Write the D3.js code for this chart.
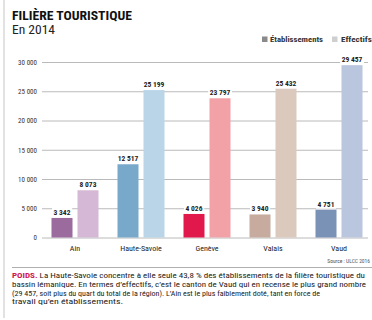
<!DOCTYPE html>
<html>
<head>
<meta charset="utf-8">
<script src="https://cdn.jsdelivr.net/npm/d3@7"></script>
<style>
  html, body { margin: 0; padding: 0; background: #fff; }
  svg { display: block; }
  text { font-family: "Liberation Sans Narrow", "Roboto Condensed", "Arial Narrow", "Liberation Sans", Arial, sans-serif; }
</style>
</head>
<body>
<svg id="chart" width="372" height="320"></svg>
<script>
// Tourism sector in the Lake Geneva basin, 2014
const categories = ["Ain", "Haute-Savoie", "Genève", "Valais", "Vaud"];
const etablissements = [3342, 12517, 4026, 3940, 4751];
const effectifs = [8073, 25199, 23797, 25432, 29457];
const yTicks = [0, 5000, 10000, 15000, 20000, 25000, 30000];
const seriesNames = ["Établissements", "Effectifs"];

// Per-area colours: [dark = establishments, light = workforce]
const colors = {
  "Ain": ["#9b6b9e", "#d5b8d6"],
  "Haute-Savoie": ["#78a9ca", "#bad5e8"],
  "Genève": ["#e0184c", "#f2a2a7"],
  "Valais": ["#c6ab9e", "#dcc9bd"],
  "Vaud": ["#7a92b6", "#b9c6de"]
};
const legendColors = ["#8a8a8a", "#cfcfcf"];

const fr = d3.formatLocale({ decimal: ",", thousands: "\u202F", grouping: [3], currency: ["", " €"] });
const fmt = v => fr.format(",")(v).replace(/\u202F/g, " ");

const rows = categories.map((c, i) => ({ cat: c, values: [etablissements[i], effectifs[i]] }));

const svg = d3.select("#chart");

// left rule
svg.append("rect").attr("x", 3).attr("y", 0).attr("width", 2).attr("height", 318).attr("fill", "#e2e2e2");

// Title block
svg.append("text").attr("x", 12).attr("y", 19.5)
  .attr("font-size", 12).attr("font-weight", "bold").attr("fill", "#111")
  .attr("textLength", 120).attr("lengthAdjust", "spacingAndGlyphs")
  .text("FILIÈRE TOURISTIQUE");
svg.append("text").attr("x", 12).attr("y", 33.5)
  .attr("font-size", 12).attr("fill", "#222")
  .attr("textLength", 43).attr("lengthAdjust", "spacingAndGlyphs")
  .text("En 2014");

// Legend
const legend = svg.append("g");
const legendPos = [{ sx: 262, tx: 270, w: 53 }, { sx: 332, tx: 341, w: 31 }];
seriesNames.forEach((name, i) => {
  legend.append("rect").attr("x", legendPos[i].sx).attr("y", 36.5).attr("width", 5.5).attr("height", 5.5).attr("fill", legendColors[i]);
  legend.append("text").attr("x", legendPos[i].tx).attr("y", 41.7)
    .attr("font-size", 7).attr("font-weight", "bold").attr("fill", "#333")
    .attr("textLength", legendPos[i].w).attr("lengthAdjust", "spacingAndGlyphs")
    .text(name);
});

// Scales
const y = d3.scaleLinear().domain([0, 30000]).range([237.5, 62]);
const x0 = d3.scaleBand().domain(categories).range([42, 372]).padding(0);
const x1 = d3.scaleBand().domain([0, 1]).range([9.5, 56.5]).paddingInner(5 / 26);

// Y axis with gridlines
const yAxis = d3.axisLeft(y).tickValues(yTicks).tickSize(-326).tickFormat(fmt).tickPadding(5);
const gy = svg.append("g").attr("transform", "translate(42,0)").call(yAxis);
gy.select(".domain").remove();
gy.selectAll(".tick line").attr("stroke", "#a8a8a8").attr("stroke-width", 0.8);
gy.selectAll(".tick text").attr("font-size", 7).attr("fill", "#333").attr("font-family", null);

// Bars
const groups = svg.append("g").selectAll("g").data(rows).join("g")
  .attr("transform", d => `translate(${x0(d.cat)},0)`);

groups.selectAll("rect").data(d => d.values.map((v, i) => ({ cat: d.cat, i, v }))).join("rect")
  .attr("x", d => x1(d.i))
  .attr("width", x1.bandwidth())
  .attr("y", d => y(d.v))
  .attr("height", d => y(0) - y(d.v))
  .attr("fill", d => colors[d.cat][d.i]);

// Value labels with white backing
const labels = groups.selectAll("g.lab").data(d => d.values.map((v, i) => ({ cat: d.cat, i, v }))).join("g")
  .attr("class", "lab")
  .attr("transform", d => `translate(${x1(d.i) + x1.bandwidth() / 2},${y(d.v) - 3})`);
labels.each(function(d) {
  const g = d3.select(this);
  const t = g.append("text").attr("text-anchor", "middle")
    .attr("font-size", 7.5).attr("font-weight", "bold").attr("fill", "#222")
    .text(fmt(d.v));
  const bb = t.node().getBBox();
  g.insert("rect", "text").attr("x", bb.x - 1.5).attr("y", bb.y).attr("width", bb.width + 3).attr("height", bb.height).attr("fill", "#fff");
});

// Category labels
svg.append("g").selectAll("text").data(categories).join("text")
  .attr("x", d => x0(d) + x0.bandwidth() / 2)
  .attr("y", 251)
  .attr("text-anchor", "middle")
  .attr("font-size", 8).attr("fill", "#222")
  .text(d => d);

// Source
svg.append("text").attr("x", 370).attr("y", 263).attr("text-anchor", "end")
  .attr("font-size", 5.5).attr("fill", "#555").text("Source : ULCC 2016");

// Separator
svg.append("line").attr("x1", 12).attr("x2", 372).attr("y1", 267.5).attr("y2", 267.5)
  .attr("stroke", "#9a9a9a").attr("stroke-width", 0.8);

// Caption
const captionLines = [
  { parts: [["POIDS. ", true], ["La Haute-Savoie concentre à elle seule 43,8 % des établissements de la filière touristique du", false]], w: 353 },
  { parts: [["bassin lémanique. En termes d’effectifs, c’est le canton de Vaud qui en recense le plus grand nombre", false]], w: 354 },
  { parts: [["(29 457, soit plus du quart du total de la région). L’Ain est le plus faiblement doté, tant en force de", false]], w: 308 },
  { parts: [["travail qu’en établissements.", false]], w: 111 }
];
captionLines.forEach((line, i) => {
  const t = svg.append("text").attr("x", 12).attr("y", 278 + i * 8.8)
    .attr("font-size", 7.6).attr("fill", "#222")
    .attr("textLength", line.w).attr("lengthAdjust", "spacingAndGlyphs");
  line.parts.forEach(([s, bold]) => {
    const ts = t.append("tspan").text(s);
    if (bold) ts.attr("font-weight", "bold").attr("fill", "#d0154f");
  });
});
</script>
</body>
</html>
